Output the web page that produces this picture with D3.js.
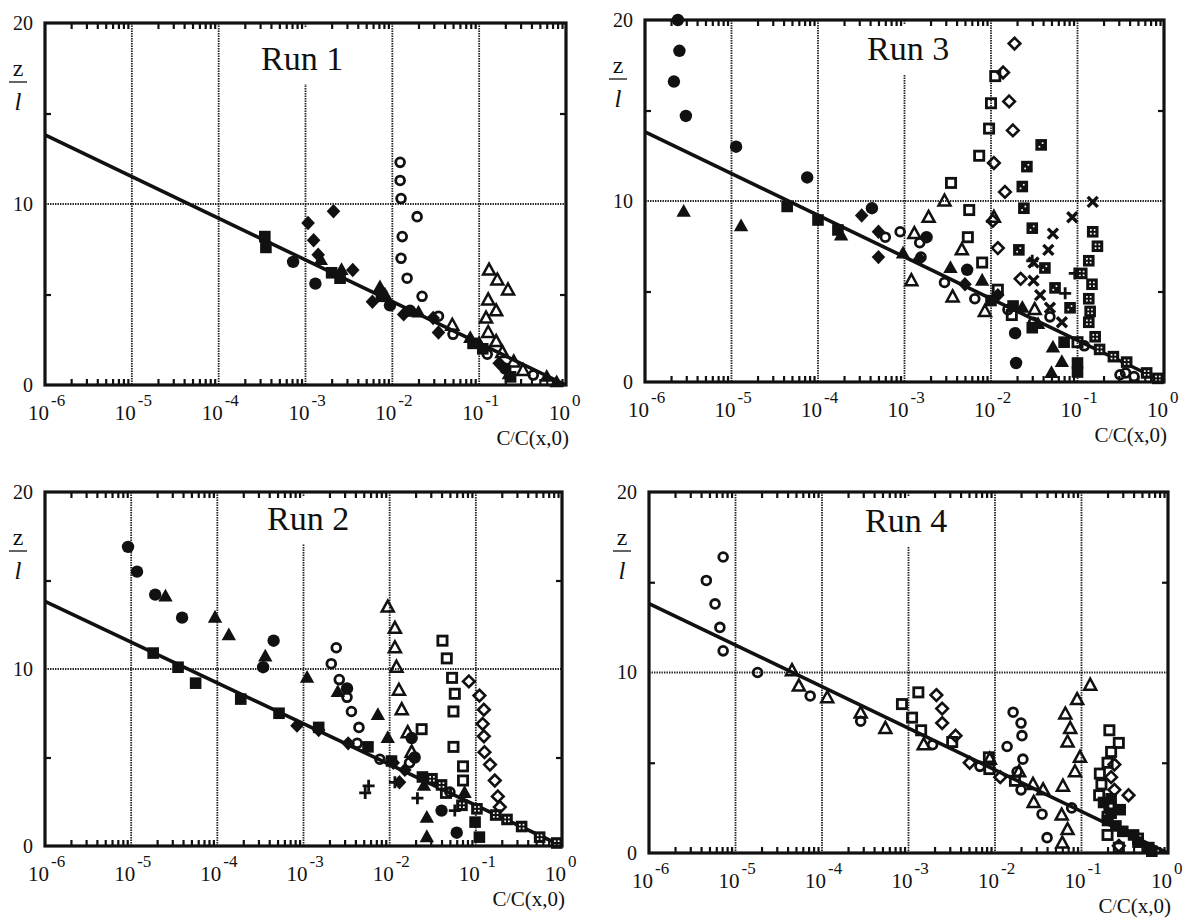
<!DOCTYPE html>
<html><head><meta charset="utf-8">
<script src="https://cdn.jsdelivr.net/npm/d3@7"></script>
<style>
body{margin:0;background:#fff}
svg{display:block}
text{font-family:"Liberation Serif","Times New Roman",serif;fill:#111}
</style>
</head><body>
<svg id="c" width="1195" height="921" font-family="Liberation Serif, Times New Roman, serif"></svg>
<script>
// ---------- tick labels / reference line ----------
const xTickExponents = [-6, -5, -4, -3, -2, -1, 0];
const yTickLabels = [0, 10, 20];
const yMinorTicks = [5, 15];
const gridDecades = [1e-5, 1e-4, 1e-3, 1e-2, 1e-1];
const gridY = [10];
const refLineX = [1e-6, 1];
const refLineY = [13.82, 0];
const axisTitle = "C(x,0)";

// ---------- Run 1 ----------
const run1CircleOpen = [[1.23e-2,12.3],[1.23e-2,11.3],[1.26e-2,10.3],[1.93e-2,9.3],[1.3e-2,8.2],[1.26e-2,7.0],[1.48e-2,5.9],[2.2e-2,4.9],[3.4e-2,3.8],[5.0e-2,2.8],[0.124,1.7],[0.42,0.55]];
const run1TriOpen = [[0.13,6.35],[0.162,5.8],[0.215,5.25],[0.127,4.7],[0.157,4.1],[0.12,3.7],[0.127,2.9],[0.157,2.4],[0.185,1.8],[0.25,1.27],[0.32,0.8],[4.9e-2,3.3]];
const run1DiaFilled = [[1.07e-3,8.95],[1.24e-3,8.0],[2.1e-3,9.6],[1.4e-3,7.2],[3.5e-3,6.35],[5.9e-3,4.6],[1.35e-2,3.9],[2.95e-2,3.7],[3.4e-2,2.9],[0.17,1.2]];
const run1CircleFilled = [[7.2e-4,6.8],[1.3e-3,5.6],[9.4e-3,4.4],[1.6e-2,4.1],[0.2,0.9]];
const run1SqFilled = [[3.4e-4,8.2],[3.5e-4,7.6],[2.0e-3,6.2],[2.5e-3,5.9],[7.5e-3,4.9],[8.5e-2,2.3],[0.23,0.45],[0.11,2.0]];
const run1TriFilled = [[1.5e-3,6.9],[2.6e-3,6.35],[7.2e-3,5.4],[8.2e-3,5.0],[2.0e-2,4.0],[7.9e-2,2.6],[0.1,2.3],[0.22,0.6],[0.6,0.45],[0.78,0.15]];

// ---------- Run 3 ----------
const run3CircleFilled = [[2.4e-6,20.0],[2.5e-6,18.3],[2.16e-6,16.6],[2.97e-6,14.7],[1.13e-5,13.0],[7.5e-5,11.3],[4.2e-4,9.6],[1.8e-3,8.0],[5.3e-3,6.2],[1.9e-2,2.7],[1.95e-2,1.05]];
const run3TriFilled = [[2.8e-6,9.4],[1.29e-5,8.6],[1.85e-4,8.1],[9.6e-4,7.1],[3.4e-3,6.3],[7.9e-3,5.6],[2.3e-2,4.1],[3.5e-2,3.2],[5.2e-2,1.9],[6.6e-2,1.1],[5.0e-2,0.5]];
const run3SqFilled = [[4.4e-5,9.7],[1.0e-4,8.95],[1.7e-4,8.4],[1.0e-2,4.5],[1.8e-2,4.2],[3.0e-2,3.0],[0.1,1.05],[0.1,0.55],[0.07,2.2]];
const run3DiaFilled = [[3.2e-4,9.2],[5.0e-4,8.3],[5.0e-4,6.9],[1.5e-3,6.8],[5.0e-3,5.4],[1.2e-2,4.8]];
const run3CircleOpen = [[8.9e-4,8.3],[1.5e-3,7.7],[1.55e-3,6.9],[6.0e-4,8.0],[2.9e-3,5.5],[6.5e-3,4.6],[1.57e-2,4.0],[3.1e-2,3.3],[4.8e-2,3.6],[0.12,2.0],[0.31,0.4],[0.36,0.5],[0.45,0.3]];
const run3TriOpen = [[2.9e-3,10.0],[1.9e-3,9.1],[1.08e-2,9.1],[4.6e-3,7.3],[1.3e-3,8.2],[1.2e-3,5.6],[3.6e-3,4.7],[8.5e-3,3.9],[3.2e-2,4.0]];
const run3SqOpen = [[1.12e-2,16.9],[1.0e-2,15.4],[9.5e-3,14.0],[7.3e-3,12.5],[3.45e-3,11.0],[5.6e-3,9.5],[5.4e-3,8.0],[7.9e-3,6.6],[1.2e-2,5.1],[1.74e-2,3.7],[0.1,2.2]];
const run3DiaOpen = [[1.87e-2,18.7],[1.38e-2,17.1],[1.62e-2,15.5],[1.79e-2,13.9],[1.08e-2,12.1],[1.45e-2,10.5],[1.05e-2,8.9],[1.2e-2,7.4],[2.2e-2,5.7]];
const run3SqDot2 = [[3.8e-2,13.1],[2.6e-2,11.9],[2.3e-2,10.8],[2.4e-2,9.6],[3.0e-2,8.5],[2.1e-2,7.3],[4.2e-2,6.3],[5.5e-2,5.2],[8.2e-2,4.1]];
const run3SqDot4 = [[0.15,8.3],[0.17,7.5],[0.135,6.7],[0.112,6.0],[0.147,5.4],[0.135,4.6],[0.14,3.9],[0.135,3.3],[0.16,2.5],[0.18,1.8],[0.26,1.4],[0.37,1.1],[0.63,0.5],[0.85,0.2]];
const run3Cross = [[0.15,9.95],[8.7e-2,9.1],[5.2e-2,8.2],[4.6e-2,7.3],[3.1e-2,6.6],[3.1e-2,5.6],[3.7e-2,4.8],[4.8e-2,4.1],[6.6e-2,3.3]];
const run3Plus = [[9.3e-2,6.0],[7.2e-2,4.9],[3.0e-2,6.7]];

// ---------- Run 2 ----------
const run2CircleFilled = [[9.2e-6,16.9],[1.17e-5,15.5],[1.9e-5,14.2],[3.9e-5,12.9],[4.5e-4,11.6],[3.4e-4,10.1],[3.2e-3,8.9],[1.8e-2,6.1],[1.95e-2,5.0],[4.0e-2,2.0],[6.0e-2,0.75]];
const run2TriFilled = [[2.5e-5,14.1],[9.4e-5,12.9],[1.36e-4,11.9],[3.6e-4,10.7],[1.1e-3,9.5],[2.5e-3,8.7],[7.3e-3,7.4],[9.5e-3,6.1],[2.7e-2,1.6],[2.7e-2,0.5],[7.4e-2,3.0],[2.5e-2,3.4]];
const run2SqFilled = [[1.8e-5,10.9],[3.5e-5,10.1],[5.6e-5,9.2],[1.87e-4,8.3],[5.2e-4,7.5],[1.5e-3,6.7],[5.6e-3,5.6],[1.05e-2,4.8],[2.4e-2,3.9],[0.098,1.35],[0.11,0.5]];
const run2DiaFilled = [[8.4e-4,6.8],[1.5e-3,6.55],[3.3e-3,5.8],[1.1e-2,4.7],[1.3e-2,3.6],[1.5e-2,4.3]];
const run2CircleOpen = [[2.4e-3,11.2],[2.1e-3,10.3],[2.6e-3,9.4],[3.2e-3,8.4],[3.6e-3,7.6],[4.4e-3,6.7],[4.2e-3,5.8],[7.7e-3,4.9],[1.7e-2,4.7],[5.0e-2,3.05]];
const run2TriOpen = [[9.5e-3,13.5],[1.15e-2,12.3],[1.15e-2,11.2],[1.2e-2,10.1],[1.28e-2,8.8],[1.38e-2,7.7],[1.62e-2,6.4],[1.8e-2,5.3]];
const run2SqOpen = [[4.1e-2,11.6],[4.6e-2,10.6],[5.3e-2,9.5],[5.7e-2,8.6],[5.5e-2,7.6],[2.35e-2,6.6],[5.5e-2,5.6],[7.1e-2,4.5],[7.1e-2,3.7],[4.5e-2,3.0]];
const run2DiaOpen = [[8.3e-2,9.3],[0.11,8.5],[0.124,7.7],[0.12,6.9],[0.124,6.2],[0.126,5.3],[0.146,4.6],[0.166,3.7],[0.18,2.8],[0.19,2.2]];
const run2SqDot4 = [[3.1e-2,3.8],[4.0e-2,3.45],[6.9e-2,2.3],[0.103,2.1],[0.17,1.75],[0.23,1.5],[0.34,1.1],[0.55,0.5],[0.87,0.17]];
const run2Plus = [[5.2e-3,3.0],[5.7e-3,3.4],[1.15e-2,3.6],[2.1e-2,2.7],[5.7e-2,2.0]];

// ---------- Run 4 ----------
const run4CircleOpen = [[7.2e-6,16.4],[4.6e-6,15.1],[5.8e-6,13.8],[6.6e-6,12.5],[7.2e-6,11.2],[1.8e-5,10.0],[7.3e-5,8.7],[2.8e-4,7.3],[1.9e-3,6.0],[6.7e-3,4.8],[1.62e-2,7.8],[2.0e-2,7.2],[2.05e-2,6.5],[1.38e-2,5.9],[2.1e-2,5.2],[1.8e-2,4.5],[2.0e-2,3.5],[3.5e-2,2.15],[4.0e-2,0.85],[7.7e-2,2.5]];
const run4TriOpen = [[4.5e-5,10.1],[5.4e-5,9.25],[1.15e-4,8.6],[2.8e-4,7.75],[5.4e-4,6.9],[1.5e-3,6.0],[8.7e-3,5.2],[1.9e-2,4.5],[2.75e-2,3.8],[6.1e-2,3.7],[6.5e-2,7.7],[8.9e-2,8.5],[0.126,9.3],[7.4e-2,6.9],[6.9e-2,6.15],[9.6e-2,5.3],[8.4e-2,4.5],[5.9e-2,2.1],[6.9e-2,1.3],[6.0e-2,0.55],[2.8e-2,2.8],[3.6e-2,3.5]];
const run4SqOpen = [[1.3e-3,8.9],[8.4e-4,8.25],[1.1e-3,7.5],[1.4e-3,6.8],[3.2e-3,6.15],[8.5e-3,5.3],[8.6e-3,4.65],[1.7e-2,4.0],[0.21,6.8],[0.27,6.1],[0.22,5.6],[0.2,5.0],[0.163,4.4],[0.17,3.8],[0.16,3.2],[0.21,2.6],[0.2,2.0],[0.2,1.0],[0.27,0.3],[0.45,0.8]];
const run4DiaOpen = [[2.1e-3,8.75],[2.45e-3,8.0],[2.45e-3,7.2],[3.5e-3,6.5],[5.1e-3,5.0],[1.15e-2,4.2],[0.24,4.9],[0.24,3.5],[0.35,3.2],[0.27,0.4],[0.22,4.2]];
const run4SqFilled = [[0.22,2.2],[0.25,1.5],[0.2,1.8],[0.3,1.2],[0.4,1.0],[0.45,0.6],[0.6,0.3],[0.65,0.1],[0.22,3.0],[0.28,2.4],[0.18,2.8]];

// ---------- assemble ----------
const panels = [
  {title:"Run 1", L:45, R:566, T:23, B:385, tx:261, ty:70,
   series:[["circleOpen",run1CircleOpen],["triOpen",run1TriOpen],["diaFilled",run1DiaFilled],["circleFilled",run1CircleFilled],["sqFilled",run1SqFilled],["triFilled",run1TriFilled]]},
  {title:"Run 3", L:645, R:1164, T:20, B:382, tx:867, ty:60,
   series:[["circleOpen",run3CircleOpen],["triOpen",run3TriOpen],["sqOpen",run3SqOpen],["diaOpen",run3DiaOpen],["sqDot2",run3SqDot2],["sqDot4",run3SqDot4],["cross",run3Cross],["plus",run3Plus],["circleFilled",run3CircleFilled],["triFilled",run3TriFilled],["sqFilled",run3SqFilled],["diaFilled",run3DiaFilled]]},
  {title:"Run 2", L:45, R:562, T:492, B:846, tx:267, ty:530,
   series:[["circleOpen",run2CircleOpen],["triOpen",run2TriOpen],["sqOpen",run2SqOpen],["diaOpen",run2DiaOpen],["sqDot4",run2SqDot4],["plus",run2Plus],["circleFilled",run2CircleFilled],["triFilled",run2TriFilled],["sqFilled",run2SqFilled],["diaFilled",run2DiaFilled]]},
  {title:"Run 4", L:649, R:1168, T:492, B:853, tx:865, ty:532,
   series:[["circleOpen",run4CircleOpen],["triOpen",run4TriOpen],["sqOpen",run4SqOpen],["diaOpen",run4DiaOpen],["sqFilled",run4SqFilled]]}
];

const svg = d3.select("#c");
const INK = "#111";
const FONT = "Liberation Serif, Times New Roman, serif";

function marker(g, type, cx, cy) {
  const m = g.append("g").attr("transform", `translate(${cx},${cy})`);
  switch (type) {
    case "circleFilled": m.append("circle").attr("r", 6.2).attr("fill", INK); break;
    case "circleOpen": m.append("circle").attr("r", 4.4).attr("fill", "none").attr("stroke", INK).attr("stroke-width", 2.8); break;
    case "triFilled": m.append("path").attr("d", "M0,-7.8L7.2,5L-7.2,5Z").attr("fill", INK); break;
    case "triOpen": m.append("path").attr("d", "M0,-6.5L6,4.5L-6,4.5Z").attr("fill", "none").attr("stroke", INK).attr("stroke-width", 2.5); break;
    case "sqFilled": m.append("rect").attr("x", -5.8).attr("y", -5.8).attr("width", 11.6).attr("height", 11.6).attr("fill", INK); break;
    case "sqOpen": m.append("rect").attr("x", -4.6).attr("y", -4.6).attr("width", 9.2).attr("height", 9.2).attr("fill", "none").attr("stroke", INK).attr("stroke-width", 2.8); break;
    case "diaFilled": m.append("path").attr("d", "M0,-7.2L6.8,0L0,7.2L-6.8,0Z").attr("fill", INK); break;
    case "diaOpen": m.append("path").attr("d", "M0,-5.8L5.8,0L0,5.8L-5.8,0Z").attr("fill", "none").attr("stroke", INK).attr("stroke-width", 2.6); break;
    case "sqDot2":
      m.append("rect").attr("x", -5.8).attr("y", -5.8).attr("width", 11.6).attr("height", 11.6).attr("fill", INK);
      m.append("rect").attr("x", 0.6).attr("y", -2.6).attr("width", 1.7).attr("height", 1.7).attr("fill", "#fff");
      m.append("rect").attr("x", -2.6).attr("y", 1).attr("width", 1.7).attr("height", 1.7).attr("fill", "#fff");
      break;
    case "sqDot4":
      m.append("rect").attr("x", -5.8).attr("y", -5.8).attr("width", 11.6).attr("height", 11.6).attr("fill", INK);
      [[-2.7,-2.7],[1,-2.7],[-2.7,1],[1,1]].forEach(p => m.append("rect").attr("x", p[0]).attr("y", p[1]).attr("width", 1.7).attr("height", 1.7).attr("fill", "#fff"));
      break;
    case "cross":
      m.append("path").attr("d", "M-5,-5L5,5M5,-5L-5,5").attr("stroke", INK).attr("stroke-width", 3.4); break;
    case "plus":
      m.append("path").attr("d", "M-6,0L6,0M0,-6L0,6").attr("stroke", INK).attr("stroke-width", 2.8); break;
  }
}

const minorVals = [];
for (let e = -6; e <= -1; e++) for (let k = 2; k <= 9; k++) minorVals.push(k * Math.pow(10, e));

panels.forEach(p => {
  const x = d3.scaleLog().domain([1e-6, 1]).range([p.L, p.R]);
  const y = d3.scaleLinear().domain([0, 20]).range([p.B, p.T]);
  const g = svg.append("g").attr("font-family", FONT);

  // grid
  g.selectAll(".gv").data(gridDecades).join("line")
    .attr("x1", d => x(d)).attr("x2", d => x(d)).attr("y1", p.T).attr("y2", p.B)
    .attr("stroke", "#222").attr("stroke-width", 1.8).attr("stroke-dasharray", "1.4,1.1");
  g.selectAll(".gh").data(gridY).join("line")
    .attr("x1", p.L).attr("x2", p.R).attr("y1", d => y(d)).attr("y2", d => y(d))
    .attr("stroke", "#222").attr("stroke-width", 1.8).attr("stroke-dasharray", "1.4,1.1");

  // title with white background
  g.append("rect").attr("x", p.tx - 6).attr("y", p.T + 4).attr("width", 100).attr("height", p.ty - p.T + 10).attr("fill", "#fff");
  g.append("text").attr("x", p.tx).attr("y", p.ty).attr("font-size", 34).attr("font-family", FONT).text(p.title);

  // ticks via axes
  const tickStyle = s => { s.select(".domain").remove(); s.selectAll(".tick line").attr("stroke", INK).attr("stroke-width", 2.2); };
  g.append("g").attr("transform", `translate(0,${p.B})`).call(d3.axisBottom(x).tickValues(minorVals).tickSize(-6).tickFormat("")).call(tickStyle);
  g.append("g").attr("transform", `translate(0,${p.T})`).call(d3.axisTop(x).tickValues(minorVals).tickSize(-6).tickFormat("")).call(tickStyle);
  g.append("g").attr("transform", `translate(${p.L},0)`).call(d3.axisLeft(y).tickValues(yMinorTicks).tickSize(-6).tickFormat("")).call(tickStyle);
  g.append("g").attr("transform", `translate(${p.R},0)`).call(d3.axisRight(y).tickValues(yMinorTicks).tickSize(-6).tickFormat("")).call(tickStyle);

  // reference line
  const line = d3.line().x(d => x(d[0])).y(d => y(d[1]));
  g.append("path").datum(refLineX.map((v, i) => [v, refLineY[i]])).attr("d", line)
    .attr("fill", "none").attr("stroke", INK).attr("stroke-width", 3.6);

  // markers
  p.series.forEach(([type, pts]) => pts.forEach(d => marker(g, type, x(d[0]), y(d[1]))));

  // frame
  g.append("rect").attr("x", p.L).attr("y", p.T).attr("width", p.R - p.L).attr("height", p.B - p.T)
    .attr("fill", "none").attr("stroke", INK).attr("stroke-width", 3.2);

  // y tick labels
  g.selectAll(".yl").data(yTickLabels).join("text")
    .attr("x", p.L - 12).attr("y", d => y(d)).attr("dy", "0.34em").attr("text-anchor", "end")
    .attr("font-size", 20).attr("font-family", FONT).text(d => d);

  // x tick labels 10^e
  xTickExponents.forEach(e => {
    const px = x(Math.pow(10, e));
    g.append("text").attr("x", px + 4).attr("y", p.B + 35).attr("text-anchor", "end").attr("font-size", 21).attr("font-family", FONT).text("10");
    g.append("text").attr("x", px + 6).attr("y", p.B + 21).attr("font-size", 17).attr("font-family", FONT).text(String(e));
  });

  // axis title C/C(x,0)
  const t = g.append("text").attr("x", p.R + 3).attr("y", p.B + 60).attr("text-anchor", "end").attr("font-size", 21).attr("font-family", FONT);
  t.append("tspan").text("C");
  t.append("tspan").attr("font-size", 15).attr("dy", -3).text("/");
  t.append("tspan").attr("dy", 3).text(axisTitle);

  // z / l label
  const cx = p.L - 27;
  g.append("text").attr("x", cx).attr("y", p.T + 53).attr("text-anchor", "middle").attr("font-size", 24).attr("font-family", FONT).text("z");
  g.append("line").attr("x1", cx - 9).attr("x2", cx + 9).attr("y1", p.T + 59).attr("y2", p.T + 59).attr("stroke", INK).attr("stroke-width", 1.3);
  g.append("text").attr("x", cx).attr("y", p.T + 87).attr("text-anchor", "middle").attr("font-size", 25).attr("font-style", "italic").attr("font-family", FONT).text("l");
});
</script>
</body></html>
